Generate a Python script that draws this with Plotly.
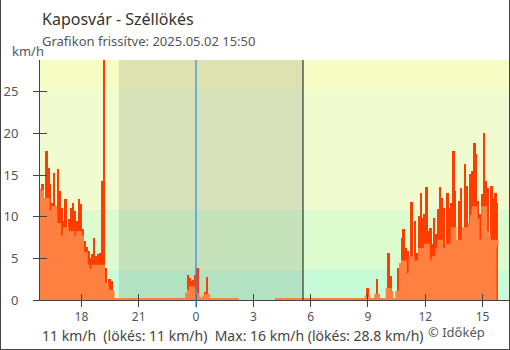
import plotly.graph_objects as go
from datetime import datetime, timedelta

# ---------------- data ----------------
START = datetime(2025, 5, 1, 15, 50)
STEP_MIN = 6
N_STEPS = 240
X_RANGE = ["2025-05-01 15:50", "2025-05-02 16:23"]

# gust (km/h) and average wind (km/h) for the active periods, each starting at the given time
gust_evening = [13.3, 13.9, 4.5, 17.9, 15.9, 13.9, 11.7, 15.3, 11.3, 15.7, 13.1, 11.1, 9.5,
                12.1, 6.7, 9.7, 11.1, 11.7, 10.7, 9.5, 12.1, 11.5, 8.5, 7.1, 6.4, 5.9, 5.0,
                5.5, 7.5, 5.3, 5.5, 5.7, 14.3, 28.8, 3.9, 1.3, 2.5, 2.3]
avg_evening = [13.0, 9.0, 4.3, 12.0, 10.5, 10.0, 8.5, 11.0, 4.0, 9.0, 7.5, 7.0, 6.0,
               8.5, 4.5, 7.0, 8.0, 7.5, 6.5, 6.0, 8.0, 7.5, 5.0, 5.5, 4.0, 3.5, 3.0,
               3.5, 4.0, 3.5, 4.0, 3.0, 4.0, 1.8, 1.5, 0.8, 1.0, 0.9]
gust_night = [3.0, 2.7, 2.3, 2.4, 3.0, 3.9, 0, 0, 0, 1.0, 2.8]
avg_night = [0.6, 1.0, 1.4, 1.0, 0.6, 0.3, 0, 0, 0, 0.3, 0.5]
gust_morning = [1.4, 0, 0, 0, 0, 2.5, 0, 0, 0, 0, 0, 5.7, 2.9, 0, 0, 0]
avg_morning = [0.3, 0, 0, 0, 0, 0.5, 0, 0, 0, 0, 0, 1.2, 0.8, 0, 0, 0]
gust_day = [3.9, 1.1, 7.5, 8.5, 6.3, 5.9, 5.0, 11.8, 3.1, 9.5,
            5.7, 10.1, 12.9, 9.9, 10.3, 13.6, 8.3, 8.7, 6.7, 9.9,
            7.9, 10.9, 13.6, 12.3, 11.1, 3.9, 12.9, 11.1, 11.7, 17.9,
            13.1, 5.1, 11.9, 13.5, 5.9, 16.3, 13.7, 7.9, 15.1, 15.5,
            18.9, 17.5, 11.9, 10.3, 12.7, 20.0, 14.3, 13.5, 6.7, 13.7,
            12.3, 12.9, 11.7]
avg_day = [0.8, 0.8, 4.2, 4.5, 2.3, 3.0, 2.5, 5.0, 1.5, 4.5,
           3.0, 4.5, 6.0, 5.0, 4.5, 6.5, 3.5, 4.5, 3.5, 5.0,
           4.5, 6.0, 7.0, 6.0, 5.0, 2.5, 6.5, 6.0, 6.5, 8.5,
           7.0, 3.0, 6.0, 7.0, 3.5, 8.5, 7.5, 4.5, 9.0, 10.0,
           11.0, 9.5, 7.0, 5.5, 7.0, 11.0, 8.0, 7.5, 4.0, 7.0,
           6.5, 7.0, 6.5]
segments = [
    ("2025-05-01 15:50", gust_evening, avg_evening),
    ("2025-05-01 23:32", gust_night, avg_night),
    ("2025-05-02 08:56", gust_morning, avg_morning),
    ("2025-05-02 10:32", gust_day, avg_day),
]
MISSING = ("2025-05-02 02:20", "2025-05-02 04:02")  # no data

SUNSET = "2025-05-01 19:58"
SUNRISE = "2025-05-02 05:36"
MIDNIGHT = "2025-05-02 00:00"

x_tickvals = ["2025-05-01 18:00", "2025-05-01 21:00", "2025-05-02 00:00", "2025-05-02 03:00",
              "2025-05-02 06:00", "2025-05-02 09:00", "2025-05-02 12:00", "2025-05-02 15:00"]
x_ticktext = ["18", "21", "0", "3", "6", "9", "12", "15"]
y_tickvals = [0, 5, 10, 15, 20, 25]
Y_MAX = 28.8

band_edges = [0, 3.6, 10.8, 25.2, 28.8]
band_colors = ["#c8fcd8", "#dcfcd0", "#f0fcd0", "#f6fcc4"]

TITLE = "Kaposvár - Széllökés"
SUBTITLE = "Grafikon frissítve: 2025.05.02 15:50"
FOOTER = "11 km/h\u00a0 (lökés: 11 km/h)\u00a0 Max: 16 km/h (lökés: 28.8 km/h)"
CREDIT = "© Időkép"

# ---------------- build series on the time grid ----------------
fmt = "%Y-%m-%d %H:%M"
times = [START + timedelta(minutes=STEP_MIN * k) for k in range(N_STEPS)]
gust = [0.0] * N_STEPS
avg = [0.0] * N_STEPS
for t0, g, a in segments:
    k0 = int((datetime.strptime(t0, fmt) - START).total_seconds() // (STEP_MIN * 60))
    for i in range(len(g)):
        gust[k0 + i] = g[i]
        avg[k0 + i] = a[i]
m0 = datetime.strptime(MISSING[0], fmt)
m1 = datetime.strptime(MISSING[1], fmt)
for k, t in enumerate(times):
    if m0 <= t <= m1:
        gust[k] = None
        avg[k] = None

RED = "#ff3d00"
ORANGE = "#ff8040"
AX = "#444444"
FONT = "Noto Sans"

fig = go.Figure()
fig.add_trace(go.Bar(x=times, y=gust, offset=0, width=STEP_MIN * 60 * 1000,
                     marker=dict(color=RED, line=dict(width=0)), showlegend=False,
                     hoverinfo="skip"))
fig.add_trace(go.Scatter(x=times, y=avg, mode="lines", line=dict(color=ORANGE, width=4, shape="hv"),
                         fill="tozeroy", fillcolor=ORANGE, showlegend=False, hoverinfo="skip"))
fig.add_trace(go.Scatter(x=[], y=[], xaxis="x2", yaxis="y2", showlegend=False, hoverinfo="skip"))

shapes = []
for i, c in enumerate(band_colors):
    shapes.append(dict(type="rect", xref="paper", yref="y", x0=0, x1=1,
                       y0=band_edges[i], y1=band_edges[i + 1], fillcolor=c,
                       line=dict(width=0), layer="below"))
shapes.append(dict(type="rect", xref="x", yref="paper", x0=SUNSET, x1=SUNRISE, y0=0, y1=1,
                   fillcolor="rgba(0,0,0,0.1)", line=dict(width=0), layer="below"))
shapes.append(dict(type="line", xref="x", yref="paper", x0=SUNRISE, x1=SUNRISE, y0=0, y1=1,
                   line=dict(color="#333333", width=1.2), layer="above"))
shapes.append(dict(type="line", xref="x", yref="paper", x0=MIDNIGHT, x1=MIDNIGHT, y0=-0.03, y1=1,
                   line=dict(color="#1e90e8", width=1.2), layer="above"))
# outer frame (left, bottom, right)
PW, PH, ML, MT = 469.0, 240.0, 40.0, 60.0
def px(xp):
    return (xp - ML) / PW
def py(yp):
    return (MT + PH - yp) / PH
shapes.append(dict(type="line", xref="paper", yref="paper", x0=px(0.5), x1=px(0.5), y0=py(0), y1=py(350),
                   line=dict(color=AX, width=1)))
shapes.append(dict(type="line", xref="paper", yref="paper", x0=px(0), x1=px(510), y0=py(349.5), y1=py(349.5),
                   line=dict(color=AX, width=1)))
shapes.append(dict(type="line", xref="paper", yref="paper", x0=px(509.5), x1=px(509.5), y0=py(0), y1=py(350),
                   line=dict(color=AX, width=1)))

annotations = [
    dict(text=TITLE, xref="paper", yref="paper", x=0, y=py(18.5), xanchor="left", yanchor="middle",
         showarrow=False, font=dict(family=FONT, size=16, color="#333333")),
    dict(text=SUBTITLE, xref="paper", yref="paper", x=0, y=py(41), xanchor="left", yanchor="middle",
         showarrow=False, font=dict(family=FONT, size=13, color="#555555")),
    dict(text="km/h", xref="paper", yref="paper", x=px(28), y=py(51), xanchor="center", yanchor="middle",
         showarrow=False, font=dict(family=FONT, size=13, color="#555555")),
    dict(text=FOOTER, xref="paper", yref="paper", x=0, y=py(335), xanchor="left", yanchor="middle",
         showarrow=False, font=dict(family=FONT, size=14, color="#444444")),
    dict(text=CREDIT, xref="paper", yref="paper", x=px(426), y=py(332), xanchor="left", yanchor="middle",
         showarrow=False, font=dict(family=FONT, size=13, color="#555555")),
]

common_x = dict(type="date", range=X_RANGE, tickvals=x_tickvals, showgrid=False, zeroline=False)
fig.update_layout(
    width=510, height=350,
    margin=dict(l=40, r=1, t=60, b=50, pad=0),
    paper_bgcolor="white", plot_bgcolor="white",
    bargap=0, barmode="overlay",
    font=dict(family=FONT, color="#555555"),
    xaxis=dict(**common_x, ticktext=x_ticktext, ticks="outside", ticklen=6, tickwidth=1, tickcolor=AX,
               showline=True, linecolor=AX, linewidth=1, layer="below traces",
               tickfont=dict(family=FONT, size=12, color="#555555")),
    xaxis2=dict(**common_x, overlaying="x", anchor="y", side="bottom", showticklabels=False,
                ticks="inside", ticklen=6, tickwidth=1, tickcolor=AX, showline=False,
                layer="above traces"),
    yaxis=dict(range=[0, Y_MAX], tickvals=y_tickvals, ticks="outside", ticklen=6, tickwidth=1,
               tickcolor=AX, showline=True, linecolor=AX, linewidth=1, showgrid=False, zeroline=False,
               layer="below traces", ticklabelstandoff=12,
               tickfont=dict(family=FONT, size=13, color="#555555")),
    yaxis2=dict(range=[0, Y_MAX], tickvals=y_tickvals, overlaying="y", anchor="x", side="left",
                showticklabels=False, ticks="inside", ticklen=7, tickwidth=1, tickcolor=AX,
                showline=False, showgrid=False, zeroline=False, layer="above traces"),
    shapes=shapes,
    annotations=annotations,
)

fig.write_html("out.html")
